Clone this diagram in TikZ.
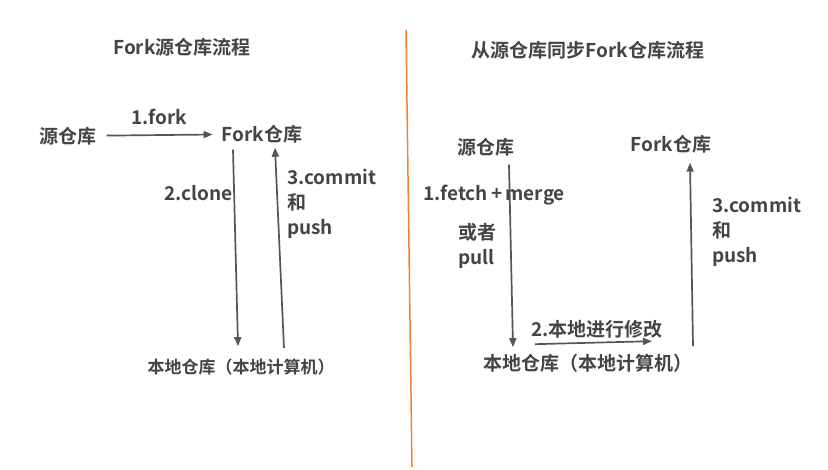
\documentclass[tikz,border=0pt]{standalone}
\usepackage{fontspec}
\setmainfont{Noto Sans CJK SC}[BoldFont={Noto Sans CJK SC Bold}]
\usetikzlibrary{arrows.meta}
\definecolor{txtgray}{HTML}{444444}
\definecolor{arrgray}{HTML}{555555}
\definecolor{divorange}{HTML}{F58232}

\begin{document}
\begin{tikzpicture}[
    x=1pt, y=1pt,
    label/.style={
        inner sep=0pt,
        text=txtgray,
        font=\bfseries\fontsize{19}{25}\selectfont
    },
    stack/.style={label, align=left, anchor=north west},
    arrow/.style={-{Triangle[length=9pt,width=7pt]},line width=1.7pt,draw=arrgray}
]
    \useasboundingbox (0,0) rectangle (828,469);

    % left: fork workflow
    \node[label] (ltitle) at (182,422) {Fork源仓库流程};
    \node[label] (lsrc) at (68,333) {源仓库};
    \node[label] (lfork) at (262,335) {Fork仓库};
    \node[label, font=\bfseries\fontsize{17}{25}\selectfont] (llocal) at (241,102) {本地仓库（本地计算机）};
    \node[label] (lforklbl) at (159,352) {1.fork};
    \node[label, anchor=east] (lclonelbl) at (233,276) {2.clone};
    \node[stack] (lpushlbl) at (287,300.5) {3.commit\\和\\push};

    \draw[arrow, shorten <=10pt, shorten >=9pt] (lsrc) -- (lfork);
    \draw[arrow] ([xshift=-29pt,yshift=-6.5pt]lfork.south) -- ([xshift=-3pt,yshift=12.5pt]llocal.north);
    \draw[arrow] ([xshift=43pt,yshift=10.5pt]llocal.north) -- ([xshift=13pt,yshift=-4.5pt]lfork.south);

    % divider
    \coordinate (divtop) at (406,439);
    \coordinate (divbot) at (412,2);
    \draw[divorange, line width=1.5pt] (divtop) -- (divbot);

    % right: sync workflow
    \node[label] (rtitle) at (588,419) {从源仓库同步Fork仓库流程};
    \node[label] (rsrc) at (486,322) {源仓库};
    \node[label] (rfork) at (671,325) {Fork仓库};
    \node[label] (rlocal) at (588,106) {本地仓库（本地计算机）};
    \node[label, anchor=west] (rfetchlbl) at (423,274) {1.fetch\,+\,merge};
    \node[stack] (rpulllbl) at (458,245.5) {或者\\pull};
    \node[label] (reditlbl) at (597,140) {2.本地进行修改};
    \node[stack] (rpushlbl) at (712,272.5) {3.commit\\和\\push};

    \draw[arrow] ([xshift=23pt,yshift=-8.5pt]rsrc.south) -- ([xshift=-75pt,yshift=6.5pt]rlocal.north);
    \draw[arrow] ([xshift=-53pt,yshift=9.5pt]rlocal.north) -- ([xshift=64pt,yshift=12.5pt]rlocal.north);
    \draw[arrow] ([xshift=105pt,yshift=7.5pt]rlocal.north) -- ([xshift=19pt,yshift=-9.5pt]rfork.south);
\end{tikzpicture}
\end{document}
